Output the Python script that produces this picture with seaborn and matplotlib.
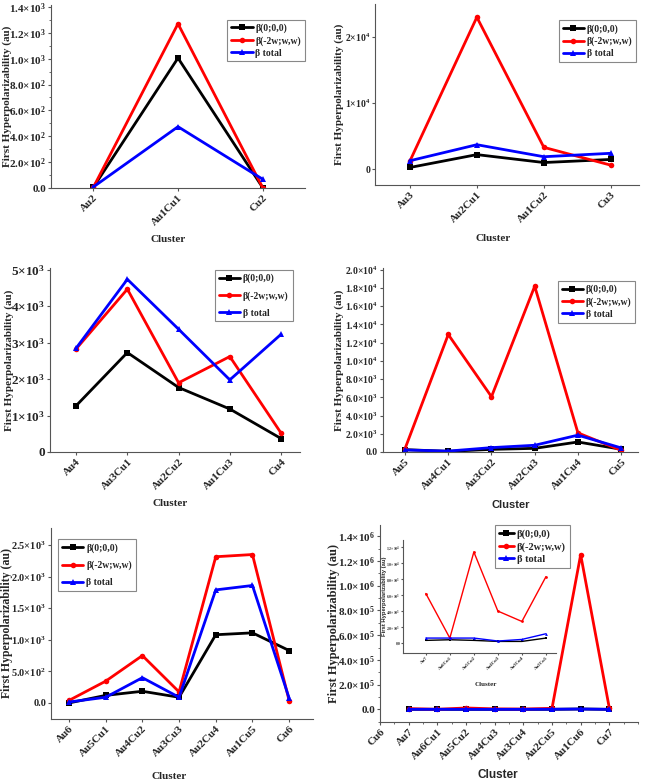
import numpy as np
import pandas as pd
import matplotlib
matplotlib.use('Agg')
import matplotlib.pyplot as plt
import seaborn as sns

sns.set_style('ticks')
plt.rcParams['font.family'] = ['Liberation Serif', 'DejaVu Serif']
plt.rcParams['font.weight'] = 'bold'
plt.rcParams['mathtext.fontset'] = 'custom'
plt.rcParams['mathtext.rm'] = 'Liberation Serif:bold'
plt.rcParams['mathtext.it'] = 'Liberation Serif:bold'
plt.rcParams['mathtext.bf'] = 'Liberation Serif:bold'

series_names = ['β(0;0,0)', 'β(-2w;w,w)', 'β total']
colors = ['black', 'red', 'blue']
markers = ['s', 'o', '^']

# dimers
clusters_2 = ['Au2', 'Au1Cu1', 'Cu2']
b0_2 = [5, 1005, 3]
bsh_2 = [5, 1270, 3]
btot_2 = [8, 474, 68]

# trimers
clusters_3 = ['Au3', 'Au2Cu1', 'Au1Cu2', 'Cu3']
b0_3 = [250, 2200, 1000, 1470]
bsh_3 = [1200, 23000, 3300, 600]
btot_3 = [1270, 3700, 1880, 2400]

# tetramers
clusters_4 = ['Au4', 'Au3Cu1', 'Au2Cu2', 'Au1Cu3', 'Cu4']
b0_4 = [1270, 2730, 1770, 1180, 370]
bsh_4 = [2830, 4470, 1900, 2620, 520]
btot_4 = [2850, 4740, 3370, 1980, 3230]

# pentamers
clusters_5 = ['Au5', 'Au4Cu1', 'Au3Cu2', 'Au2Cu3', 'Au1Cu4', 'Cu5']
b0_5 = [260, 70, 290, 400, 1100, 300]
bsh_5 = [370, 12900, 6070, 18200, 2100, 180]
btot_5 = [220, 100, 480, 740, 1850, 450]

# hexamers
clusters_6 = ['Au6', 'Au5Cu1', 'Au4Cu2', 'Au3Cu3', 'Au2Cu4', 'Au1Cu5', 'Cu6']
b0_6 = [0, 120, 185, 90, 1080, 1110, 830]
bsh_6 = [40, 345, 750, 175, 2315, 2350, 37]
btot_6 = [15, 90, 400, 90, 1790, 1860, 75]

# heptamers (first tick "Cu6" carries no data)
clusters_7 = ['Cu6', 'Au7', 'Au6Cu1', 'Au5Cu2', 'Au4Cu3', 'Au3Cu4', 'Au2Cu5', 'Au1Cu6', 'Cu7']
b0_7 = [330, 410, 330, 200, 200, 620, 3000, 300]
bsh_7 = [6200, 620, 11400, 4000, 2700, 8300, 1250000, 10000]
btot_7 = [620, 620, 620, 250, 450, 1160, 3000, 300]

# inset: heptamers without Au1Cu6 and Cu7
clusters_in = ['Au7', 'Au6Cu1', 'Au5Cu2', 'Au4Cu3', 'Au3Cu4', 'Au2Cu5']


def sci_label(v, dec, comma=False):
    if v == 0:
        s = '0' if dec == 0 else '0.0'
        return s.replace('.', ',') if comma else s
    e = int(np.floor(np.log10(abs(v)) + 1e-9))
    s = f'{v / 10 ** e:.{dec}f}'
    if comma:
        s = s.replace('.', ',')
    return s + '×10$^{%d}$' % e


def rect(l, t, r, b):
    return [l / 646, 1 - b / 783, (r - l) / 646, (b - t) / 783]


def draw(ax, vals, start=0, lw=2, ms=4):
    for name, c, m, v in zip(series_names, colors, markers, vals):
        df = pd.DataFrame({'pos': np.arange(start, start + len(v)), 'value': v})
        sns.lineplot(data=df, x='pos', y='value', color=c, marker=m, markersize=ms,
                     markeredgewidth=0, linewidth=lw, label=name, ax=ax, legend=False)


def style(ax, clusters, yticks, dec, xlim, ylim, xlab_pos, ylab_x, tick_fs=8, lab_fs=8,
          ylab_fs=8, xlab_font='Liberation Serif', xlab_fs=8, comma=False,
          ylabel_family='Liberation Serif'):
    ax.set_xticks(range(len(clusters)))
    ax.set_xticklabels(clusters, rotation=45, ha='right', rotation_mode='anchor',
                       fontsize=lab_fs, fontweight='bold')
    ax.set_yticks(yticks)
    ax.set_yticklabels([sci_label(t, dec, comma) for t in yticks], fontsize=tick_fs,
                       fontweight='bold')
    ax.set_xlim(*xlim)
    ax.set_ylim(*ylim)
    ax.set_xlabel('Cluster', family=xlab_font, fontsize=xlab_fs, fontweight='bold',
                  va='center')
    ax.xaxis.set_label_coords(*xlab_pos)
    ax.set_ylabel('First Hyperpolarizability (au)', fontsize=ylab_fs, fontweight='bold',
                  family=ylabel_family, va='center')
    ax.yaxis.set_label_coords(ylab_x, 0.5)
    for s in ['top', 'right']:
        ax.spines[s].set_visible(False)
    for s in ['left', 'bottom']:
        ax.spines[s].set_color('#555555')
        ax.spines[s].set_linewidth(0.8)
    ax.tick_params(length=2.5, width=0.8, color='#555555', pad=1)


def leg(ax, loc, anchor, fs=7, spacing=0.3, hl=2.2, target=None):
    h, l = ax.get_legend_handles_labels()
    t = target if target is not None else ax
    lg = t.legend(h, l, loc=loc, bbox_to_anchor=anchor, bbox_transform=ax.transAxes,
                  frameon=True, fancybox=False, edgecolor='#888888',
                  framealpha=1, handlelength=hl, handletextpad=0.3,
                  labelspacing=spacing, borderpad=0.4, borderaxespad=0,
                  prop={'weight': 'bold', 'size': fs, 'family': 'Liberation Serif'})
    lg.get_frame().set_linewidth(0.8)
    return lg


fig = plt.figure(figsize=(6.46, 7.83), dpi=100)

ax1 = fig.add_axes(rect(51, 5, 305, 188))
draw(ax1, [b0_2, bsh_2, btot_2])
style(ax1, clusters_2, [0, 200, 400, 600, 800, 1000, 1200, 1400], 1, (-0.5, 2.5), (0, 1415),
      (0.46, -0.284), -0.172, tick_fs=8)
ax1.yaxis.set_minor_locator(matplotlib.ticker.AutoMinorLocator(2))
ax1.tick_params(which='minor', length=1.5, color='#555555')
leg(ax1, 'upper right', (1.0, 0.92))

ax2 = fig.add_axes(rect(375, 4, 639, 185))
draw(ax2, [b0_3, bsh_3, btot_3])
style(ax2, clusters_3, [0, 10000, 20000], 0, (-0.52, 3.42), (-2400, 25000),
      (0.447, -0.293), -0.136, tick_fs=7)
leg(ax2, 'upper right', (0.99, 0.91))

ax3 = fig.add_axes(rect(50, 268, 300, 452))
draw(ax3, [b0_4, bsh_4, btot_4])
style(ax3, clusters_4, [0, 1000, 2000, 3000, 4000, 5000], 0, (-0.51, 4.37), (0, 5050),
      (0.48, -0.28), -0.165, tick_fs=9.5)
leg(ax3, 'upper right', (0.97, 0.99), spacing=0.8)

ax4 = fig.add_axes(rect(383, 268, 638, 452))
draw(ax4, [b0_5, bsh_5, btot_5])
style(ax4, clusters_5, list(range(0, 20001, 2000)), 1, (-0.51, 5.39), (0, 20200),
      (0.50, -0.286), -0.17, tick_fs=7, xlab_font='Liberation Sans')
leg(ax4, 'upper right', (0.99, 0.93))

ax5 = fig.add_axes(rect(51, 528, 313, 719))
draw(ax5, [b0_6, bsh_6, btot_6])
style(ax5, clusters_6, [0, 500, 1000, 1500, 2000, 2500], 1, (-0.49, 6.65), (-254, 2770),
      (0.45, -0.30), -0.168, tick_fs=7.5, ylab_fs=8.5)
leg(ax5, 'upper left', (0.027, 0.94), spacing=0.8)

ax6 = fig.add_axes(rect(380, 525, 638, 722))
draw(ax6, [b0_7, bsh_7, btot_7], start=1)
style(ax6, clusters_7, list(range(0, 1400001, 200000)), 1, (0, 9), (-102000, 1490000),
      (0.457, -0.27), -0.178, tick_fs=8, lab_fs=8, ylab_fs=9,
      xlab_font='Liberation Sans', xlab_fs=8.5)
ax6.xaxis.set_minor_locator(matplotlib.ticker.AutoMinorLocator(2))
ax6.yaxis.set_minor_locator(matplotlib.ticker.AutoMinorLocator(2))
ax6.tick_params(which='minor', length=1.5, color='#555555')

axi = fig.add_axes(rect(403, 540, 556, 653))
draw(axi, [b0_7[:6], bsh_7[:6], btot_7[:6]], lw=1, ms=2)
style(axi, clusters_in, list(range(0, 12001, 2000)), 1, (-0.95, 5.42), (-1250, 12900),
      (0.54, -0.28), -0.12, tick_fs=2.8, lab_fs=3.5, ylab_fs=4.2, xlab_fs=5, comma=True,
      ylabel_family='Liberation Sans')
axi.tick_params(length=1.5, pad=0.5)
axi.patch.set_alpha(0)
leg(ax6, 'upper left', (0.445, 1.0), fs=7.5, hl=1.4, target=axi)

fig.savefig('out.png', dpi=100)
